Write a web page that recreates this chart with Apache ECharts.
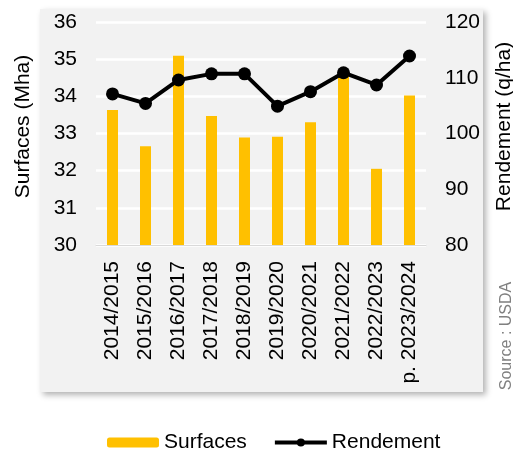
<!DOCTYPE html>
<html>
<head>
<meta charset="utf-8">
<script src="https://cdn.jsdelivr.net/npm/echarts@6/dist/echarts.min.js"></script>
<style>
  html, body { margin: 0; padding: 0; background: #fff; }
  #chart { width: 513px; height: 453px; }
</style>
</head>
<body>
<div id="chart"></div>
<script>
// campagnes
const campaigns = ['2014/2015', '2015/2016', '2016/2017', '2017/2018', '2018/2019',
  '2019/2020', '2020/2021', '2021/2022', '2022/2023', 'p. 2023/2024']
// surfaces en Mha (axe gauche)
const surfaces = [33.63, 32.66, 35.09, 33.47, 32.89, 32.91, 33.30, 34.55, 32.05, 34.02]
// rendement en q/ha (axe droit)
const rendement = [107.1, 105.4, 109.6, 110.7, 110.7, 104.9, 107.5, 110.9, 108.7, 113.9]

const font = 'Liberation Sans, Arial, sans-serif'
const chart = echarts.init(document.getElementById('chart'))

const option = {
  animation: false,
  textStyle: { fontFamily: font },
  graphic: [
    {
      type: 'rect',
      z: -10,
      shape: { x: 40, y: 9, width: 443, height: 383 },
      style: {
        fill: '#f2f2f2',
        shadowBlur: 6,
        shadowOffsetX: 3,
        shadowOffsetY: 3,
        shadowColor: 'rgba(0,0,0,0.3)'
      }
    },
    {
      type: 'text',
      x: 507,
      y: 336,
      rotation: Math.PI / 2,
      style: {
        text: 'Source : USDA',
        fill: '#808080',
        font: '16px ' + font,
        align: 'center',
        verticalAlign: 'middle'
      }
    }
  ],
  legend: {
    left: 102,
    top: 427,
    itemWidth: 52,
    itemHeight: 10,
    itemGap: 26,
    textStyle: { fontSize: 21, color: '#000', fontFamily: font },
    data: [
      { name: 'Surfaces' },
      { name: 'Rendement', lineStyle: { width: 4, color: '#000' } }
    ]
  },
  grid: {
    left: 96,
    right: 87,
    top: 22,
    bottom: 208,
    outerBoundsMode: 'none'
  },
  xAxis: {
    type: 'category',
    data: campaigns,
    axisLine: { lineStyle: { color: '#d9d9d9', width: 1 } },
    axisTick: { show: false },
    axisLabel: {
      rotate: 90,
      interval: 0,
      margin: 16,
      fontSize: 21,
      color: '#000',
      fontFamily: font
    }
  },
  yAxis: [
    {
      type: 'value',
      min: 30,
      max: 36,
      interval: 1,
      name: 'Surfaces (Mha)',
      nameLocation: 'middle',
      nameRotate: 90,
      nameGap: 62,
      nameTextStyle: { fontSize: 21, color: '#000', fontFamily: font, padding: [0, 0, 0, 14] },
      axisLine: { show: false },
      axisTick: { show: false },
      axisLabel: { fontSize: 21, color: '#000', margin: 19, fontFamily: font },
      splitLine: { lineStyle: { color: '#fff', width: 2.5 } }
    },
    {
      type: 'value',
      min: 80,
      max: 120,
      interval: 10,
      name: 'Rendement (q/ha)',
      nameLocation: 'middle',
      nameRotate: 90,
      nameGap: 68,
      nameTextStyle: { fontSize: 21, color: '#000', fontFamily: font, padding: [0, 0, 0, 14] },
      axisLine: { show: false },
      axisTick: { show: false },
      axisLabel: { fontSize: 21, color: '#000', margin: 19, fontFamily: font },
      splitLine: { show: false }
    }
  ],
  series: [
    {
      name: 'Surfaces',
      type: 'bar',
      data: surfaces,
      barWidth: 11,
      itemStyle: { color: '#ffc000' }
    },
    {
      name: 'Rendement',
      type: 'line',
      yAxisIndex: 1,
      data: rendement,
      symbol: 'circle',
      symbolSize: 13,
      lineStyle: { color: '#000', width: 4 },
      itemStyle: { color: '#000' }
    }
  ]
}

chart.setOption(option)
</script>
</body>
</html>
